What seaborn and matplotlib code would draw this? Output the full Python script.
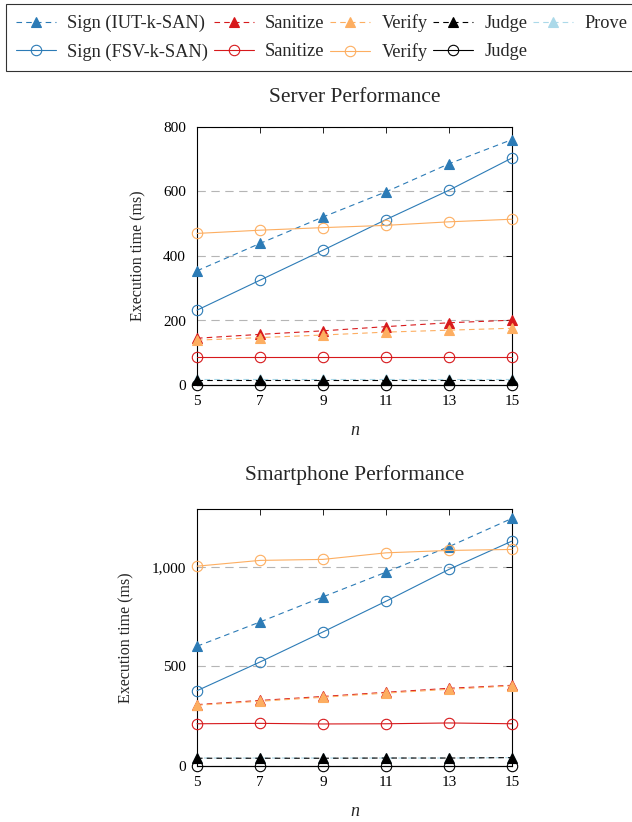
import matplotlib
matplotlib.use("Agg")
import matplotlib.pyplot as plt
import seaborn as sns
import pandas as pd
from matplotlib.lines import Line2D

# --- data -------------------------------------------------------------
n = [5, 7, 9, 11, 13, 15]

server_sign_iut = [354, 439, 521, 599, 686, 761]
server_sanitize_iut = [145, 157, 168, 181, 193, 201]
server_verify_iut = [139, 147, 155, 164, 170, 176]
server_judge_iut = [17, 17, 17, 17, 17, 17]
server_prove = [18, 18, 18, 18, 18, 18]
server_sign_fsv = [232, 325, 418, 513, 604, 704]
server_sanitize_fsv = [88, 88, 88, 88, 88, 88]
server_verify_fsv = [470, 480, 488, 495, 506, 514]
server_judge_fsv = [0.5, 0.5, 0.5, 0.5, 0.5, 0.5]

phone_sign_iut = [601, 723, 849, 973, 1101, 1243]
phone_sanitize_iut = [308, 329, 349, 370, 390, 405]
phone_verify_iut = [305, 325, 345, 366, 385, 402]
phone_judge_iut = [39, 39, 39, 40, 40, 42]
phone_prove = [40, 40, 40, 40, 40, 42]
phone_sign_fsv = [378, 522, 673, 827, 987, 1129]
phone_sanitize_fsv = [212, 214, 211, 212, 216, 212]
phone_verify_fsv = [1003, 1032, 1037, 1070, 1082, 1087]
phone_judge_fsv = [0.5, 0.5, 0.5, 0.5, 0.5, 0.5]

legend_labels = ["Sign (IUT-k-SAN)", "Sanitize", "Verify", "Judge", "Prove",
                 "Sign (FSV-k-SAN)", "Sanitize", "Verify", "Judge"]

# --- style ------------------------------------------------------------
BLUE, RED, ORANGE, LIGHTBLUE, BLACK = "#2c7bb6", "#d7191c", "#fdae61", "#abd9e9", "#000000"

sns.set_theme(style="white")
plt.rcParams["font.family"] = ["Liberation Serif", "DejaVu Serif"]
plt.rcParams["lines.scale_dashes"] = False

DASH = (0, (4.0, 3.0))
DASH_PROVE = (2.0, (4.0, 3.0))


def series_specs(d):
    # (values, color, linestyle, marker, filled, zorder)
    return [
        (d["prove"], LIGHTBLUE, DASH_PROVE, "^", True, 2),
        (d["sign_iut"], BLUE, DASH, "^", True, 3),
        (d["sanitize_iut"], RED, DASH, "^", True, 3),
        (d["verify_iut"], ORANGE, DASH, "^", True, 3),
        (d["judge_iut"], BLACK, DASH, "^", True, 3),
        (d["sign_fsv"], BLUE, "-", "o", False, 3),
        (d["sanitize_fsv"], RED, "-", "o", False, 3),
        (d["verify_fsv"], ORANGE, "-", "o", False, 3),
        (d["judge_fsv"], BLACK, "-", "o", False, 4),
    ]


def draw(ax, d, ylim, yticks, yticklabels, title, title_pad):
    for vals, color, ls, marker, filled, z in series_specs(d):
        df = pd.DataFrame({"n": n, "t": vals})
        sns.lineplot(data=df, x="n", y="t", ax=ax, color=color, linestyle=ls,
                     linewidth=0.8, marker=marker, markersize=7.5 if marker == "o" else 7,
                     markerfacecolor=color if filled else "none",
                     markeredgecolor=color, markeredgewidth=0.8,
                     clip_on=False, zorder=z)
    ax.set_xlim(5, 15)
    ax.set_ylim(*ylim)
    ax.set_xticks(n)
    ax.set_yticks(yticks)
    ax.set_yticklabels(yticklabels)
    ax.yaxis.grid(True, color="#b5b5b5", linestyle=(0, (6, 4)), linewidth=0.8)
    ax.set_axisbelow(True)
    for s in ax.spines.values():
        s.set_color("black")
        s.set_linewidth(0.8)
    ax.tick_params(axis="both", direction="in", length=4, width=0.6,
                   colors="black", labelsize=11, top=True, right=True)
    ax.tick_params(axis="x", pad=7)
    ax.tick_params(axis="y", pad=8)
    for t in ax.xaxis.get_major_ticks() + ax.yaxis.get_major_ticks():
        t.tick2line.set_color("#999999")
    ax.set_title(title, fontsize=15.5, pad=title_pad)
    ax.set_ylabel("Execution time (ms)", fontsize=11.5, labelpad=12)
    ax.set_xlabel("n", fontsize=13, style="italic", labelpad=10)


server = dict(prove=server_prove, sign_iut=server_sign_iut, sanitize_iut=server_sanitize_iut,
              verify_iut=server_verify_iut, judge_iut=server_judge_iut,
              sign_fsv=server_sign_fsv, sanitize_fsv=server_sanitize_fsv,
              verify_fsv=server_verify_fsv, judge_fsv=server_judge_fsv)
phone = dict(prove=phone_prove, sign_iut=phone_sign_iut, sanitize_iut=phone_sanitize_iut,
             verify_iut=phone_verify_iut, judge_iut=phone_judge_iut,
             sign_fsv=phone_sign_fsv, sanitize_fsv=phone_sanitize_fsv,
             verify_fsv=phone_verify_fsv, judge_fsv=phone_judge_fsv)

W, H = 632, 822
fig = plt.figure(figsize=(W / 100, H / 100), dpi=100)


def axes_px(left, top, right, bottom):
    return fig.add_axes([left / W, 1 - bottom / H, (right - left) / W, (bottom - top) / H])


ax1 = axes_px(197, 127, 512, 385)
ax2 = axes_px(197, 509, 512, 766)

draw(ax1, server, (0, 800), [0, 200, 400, 600, 800], ["0", "200", "400", "600", "800"],
     "Server Performance", 18)
draw(ax2, phone, (0, 1290), [0, 500, 1000], ["0", "500", "1,000"],
     "Smartphone Performance", 21)

# --- legend -----------------------------------------------------------
def handle(color, ls, marker, filled):
    return Line2D([], [], color=color, linestyle=ls, linewidth=0.8, marker=marker,
                  markersize=7.5 if marker == "o" else 7,
                  markerfacecolor=color if filled else "none",
                  markeredgecolor=color, markeredgewidth=0.8)

row1 = [handle(BLUE, DASH, "^", True), handle(RED, DASH, "^", True),
        handle(ORANGE, DASH, "^", True), handle(BLACK, DASH, "^", True),
        handle(LIGHTBLUE, DASH, "^", True)]
row2 = [handle(BLUE, "-", "o", False), handle(RED, "-", "o", False),
        handle(ORANGE, "-", "o", False), handle(BLACK, "-", "o", False)]
handles, labels = [], []
for i in range(5):
    handles.append(row1[i]); labels.append(legend_labels[i])
    if i < 4:
        handles.append(row2[i]); labels.append(legend_labels[5 + i])

leg = fig.legend(handles, labels, ncol=5, loc="upper left",
                 bbox_to_anchor=(6 / W, 1 - 4 / H), frameon=True, fancybox=False,
                 edgecolor="black", fontsize=13.2, handlelength=2.2,
                 handletextpad=0.6, columnspacing=0.3, labelspacing=0.62,
                 borderpad=0.55, borderaxespad=0)
leg.get_frame().set_linewidth(0.8)

fig.savefig("out.png", dpi=100)
